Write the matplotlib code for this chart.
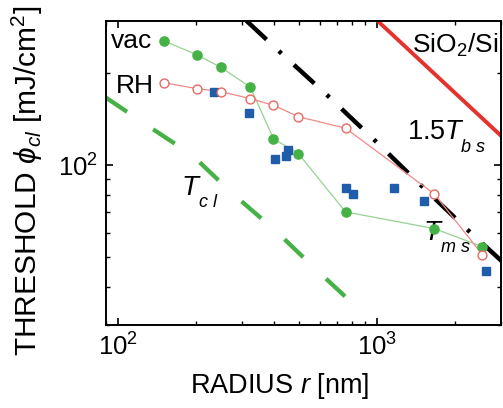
import numpy as np
import matplotlib
matplotlib.use("Agg")
import matplotlib.pyplot as plt
from matplotlib.ticker import LogLocator, NullFormatter, LogFormatterSciNotation

plt.rcParams["font.family"] = ["Liberation Sans", "DejaVu Sans"]
plt.rcParams["mathtext.fontset"] = "custom"
plt.rcParams["mathtext.rm"] = "Liberation Sans"
plt.rcParams["mathtext.it"] = "Liberation Sans:italic"
plt.rcParams["mathtext.bf"] = "Liberation Sans:bold"

# ─────────────────────────────────────────
# DATA
# ─────────────────────────────────────────
radius = [150, 201, 249, 324, 398, 497, 755, 1660, 2540]
phi_vac = [255, 230, 209, 180, 122, 109, 70.3, 62, 54.1]
phi_rh = [186, 178, 174, 165, 157, 144, 132, 80.5, 51]

radius_sq = [234, 319, 405, 443, 451, 755, 804, 1156, 1510, 2620]
phi_sq = [173, 148, 104.6, 107, 112, 84.1, 80.5, 84, 76.4, 45.2]

# theory curves
r_cl = [89.7, 138.5, 193, 274, 404, 568, 885]
t_cl = [166.5, 130, 108, 81.3, 61.2, 46.4, 32.7]

r_bs = [313, 420, 638, 977, 1497, 2272, 3013]
t_bs = [296.6, 235, 170, 120.6, 84.8, 60.5, 48.6]

r_sio2 = [1002, 3013]
t_sio2 = [296.6, 124.3]

GREEN = "#45b146"
RED = "#e5322d"
BLUE = "#1f5caa"
PINK = "#e86a64"

# ─────────────────────────────────────────
# FIGURE
# ─────────────────────────────────────────
fig = plt.figure(figsize=(5.03, 4.08), dpi=100)
ax = fig.add_axes([106 / 503, 83 / 408, 395 / 503, 304 / 408])

ax.plot(r_cl, t_cl, color=GREEN, lw=3.1, ls=(0, (6.0, 7.3)),
        solid_capstyle="butt", dash_capstyle="butt", zorder=2)
ax.plot(r_bs, t_bs, color="black", lw=3.2, ls=(0, (6.2, 3.8, 0.8, 3.8)),
        dash_capstyle="butt", zorder=2)
ax.plot(r_sio2, t_sio2, color=RED, lw=2.8, zorder=2)

ax.plot(radius, phi_vac, color="#95d392", lw=0.9, zorder=3)
ax.plot(radius, phi_rh, color="#ee8a86", lw=0.9, zorder=3)

ax.plot(radius_sq, phi_sq, ls="none", marker="s", ms=5.6,
        color=BLUE, zorder=4)
ax.plot(radius, phi_vac, ls="none", marker="o", ms=6.6,
        color=GREEN, mec=GREEN, zorder=5)
ax.plot(radius, phi_rh, ls="none", marker="o", ms=6.4,
        mfc="white", mec=PINK, mew=1.0, zorder=5)

ax.set_xscale("log")
ax.set_yscale("log")
ax.set_xlim(90, 3000)
ax.set_ylim(30, 296)

for axis in (ax.xaxis, ax.yaxis):
    axis.set_major_locator(LogLocator(base=10))
    axis.set_minor_locator(LogLocator(base=10, subs=np.arange(2, 10)))
    axis.set_major_formatter(LogFormatterSciNotation())
    axis.set_minor_formatter(NullFormatter())

ax.tick_params(which="both", direction="in", top=True, right=True,
               labelsize=18.5, color="black")
ax.tick_params(which="major", length=5, width=1.2, pad=6)
ax.tick_params(which="minor", length=3, width=1.0)
for s in ax.spines.values():
    s.set_linewidth(1.4)

ax.set_xlabel("RADIUS $r$ [nm]", fontsize=19.5)
ax.set_ylabel(r"THRESHOLD $\phi_{cl}$ [mJ/cm$^2$]", fontsize=21.5)
ax.xaxis.set_label_coords(0.44, -0.15)
ax.yaxis.set_label_coords(-0.155, 0.474)

# ─────────────────────────────────────────
# ANNOTATIONS
# ─────────────────────────────────────────
tr = ax.transAxes
ax.text(0.012, 0.911, "vac", transform=tr, fontsize=19, va="baseline")
ax.text(0.025, 0.763, "RH", transform=tr, fontsize=19, va="baseline")
ax.text(0.7747, 0.895, "SiO$_2$/Si", transform=tr, fontsize=19,
        va="baseline")

ax.text(0.762, 0.612, "1.5$T$", transform=tr, fontsize=19.5, va="baseline")
ax.text(0.899, 0.569, "b s", transform=tr, fontsize=13, va="baseline",
        style="italic")

ax.text(0.192, 0.428, "T", transform=tr, fontsize=20, va="baseline",
        style="italic")
ax.text(0.236, 0.388, "c l", transform=tr, fontsize=13, va="baseline",
        style="italic")

ax.text(0.803, 0.280, "T", transform=tr, fontsize=20, va="baseline",
        style="italic")
ax.text(0.847, 0.240, "m s", transform=tr, fontsize=13, va="baseline",
        style="italic")

plt.savefig("out.png", dpi=100, facecolor="white")
